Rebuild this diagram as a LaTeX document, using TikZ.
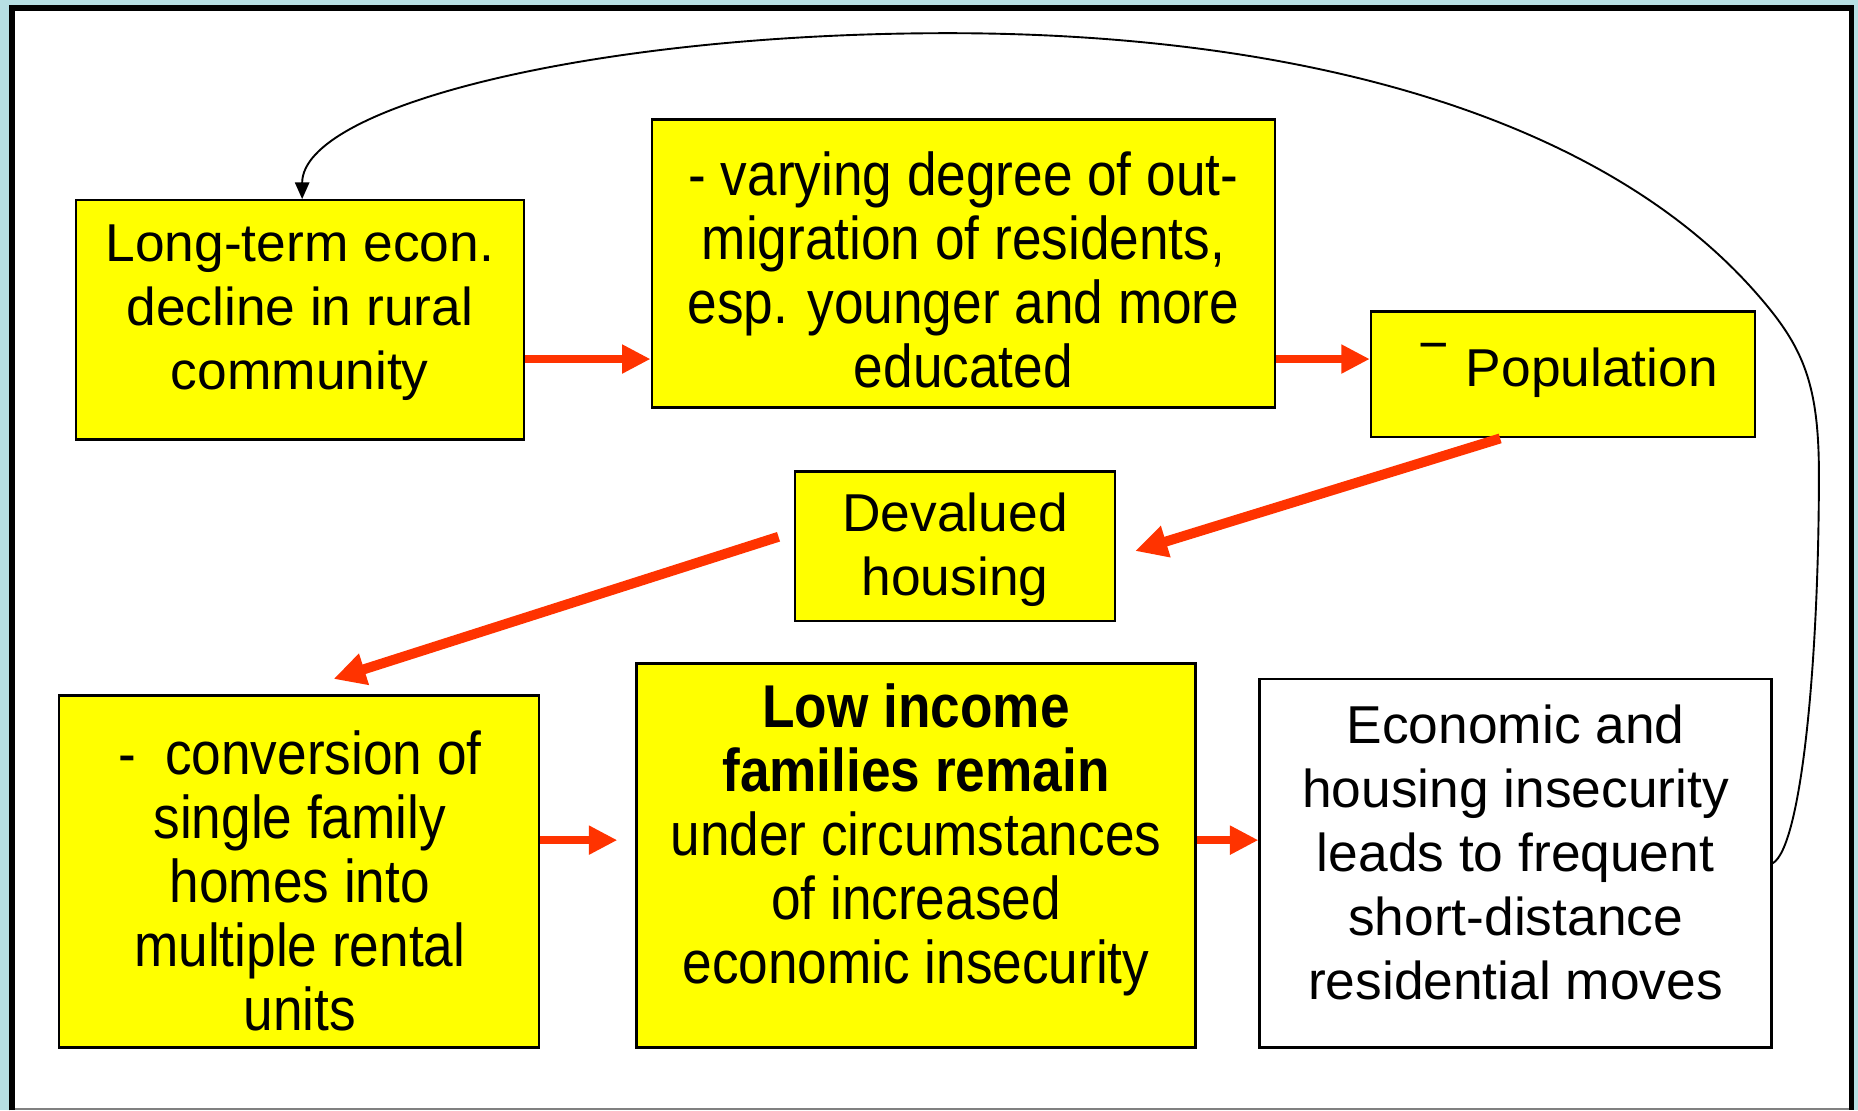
\documentclass[tikz,border=0pt]{standalone}
\usepackage{fontspec}
\setmainfont{Liberation Sans}
\newfontfamily\narrowfont[FakeStretch=0.88]{Liberation Sans}
\usetikzlibrary{arrows.meta,calc}
\definecolor{bgcyan}{HTML}{B7DFE3}
\definecolor{boxyellow}{HTML}{FFFF00}
\definecolor{arrowred}{HTML}{FF3300}
\tikzset{
  box/.style={draw=black, line width=1pt, fill=boxyellow, inner sep=0pt},
  whitebox/.style={box, fill=white},
  sz/.style 2 args={minimum width=#1*0.5pt, minimum height=#2*0.5pt},
  txt/.style={inner sep=0pt, align=center, font=\fontsize{22.5pt}{27pt}\selectfont},
  ntxt/.style={inner sep=0pt, align=center, font=\narrowfont\fontsize{25.5pt}{27pt}\selectfont},
  harrow/.style={draw=arrowred, line width=3.25pt, -{Triangle[length=12pt,width=11.5pt]}},
  darrow/.style={draw=arrowred, line width=4.2pt, -{Triangle[length=13.5pt,width=13pt]}},
  fb/.style={draw=black, line width=0.8pt, -{Triangle[length=7pt,width=6pt]}}
}
\begin{document}
\begin{tikzpicture}[x=0.5pt,y=-0.5pt]
\useasboundingbox (0,0) rectangle (1568,937);
% slide frame
\fill[bgcyan] (0,0) rectangle (1568,937);
\fill[white] (10,6) rectangle (1563,936);
\draw[gray, line width=1pt] (10,936) -- (1563,936);
\draw[black, line width=2.5pt] (10.5,937) -- (10.5,6.5) -- (1562.5,6.5) -- (1562.5,937);

% boxes
\node[box, sz={378}{202}] (b1) at (253,270) {};
\node[box, sz={526}{243}] (b2) at (813,222.5) {};
\node[box, sz={324}{106}] (b3) at (1319,316) {};
\node[box, sz={270}{126}] (b4) at (806,461) {};
\node[box, sz={405}{297}] (b5) at (252.5,735.5) {};
\node[box, sz={472}{324}] (b6) at (773,722) {};
\node[whitebox, sz={432}{311}] (b7) at (1279,728.5) {};

% texts
\node[txt] (t1) at (253,264) {Long-term econ.\\decline in rural\\community};
\node[ntxt] (t2) at (813,228) {- varying degree of out-\\migration of residents,\\esp. younger and more\\educated};
\node[txt, anchor=base west] (t3) at (1197,326) {\raisebox{10pt}{\fontsize{22pt}{22pt}\selectfont −}\hspace{7pt}Population};
\node[txt] (t4) at (806,464) {Devalued\\housing};
\node[ntxt] (t5) at (253,743) {-\ \ conversion of\\single family\\homes into\\multiple rental\\units};
\node[ntxt] (t6) at (773,709) {\textbf{Low income}\\\textbf{families remain}\\under circumstances\\of increased\\economic insecurity};
\node[txt] (t7) at (1279,719) {Economic and\\housing insecurity\\leads to frequent\\short-distance\\residential moves};

% arrows
\draw[harrow] (b1.east |- 0,303) -- (b2.west |- 0,303);
\draw[harrow] (b2.east |- 0,303) -- (b3.west |- 0,303);
\draw[darrow] (b3.south -| 1266,0) -- ($(b4.east)+(16,4)$);
\draw[darrow] ($(b4.west)+(-13,-8)$) -- ($(b5.north)+(29,-13)$);
\draw[harrow] (b5.east |- 0,709) -- ($(b6.west |- 0,709)+(-15,0)$);
\draw[harrow] (b6.east |- 0,709) -- (b7.west |- 0,709);

% feedback loop
\draw[fb] (b7.east) .. controls (1520,715) and (1535,560) .. (1535,400)
  .. controls (1535,320) and (1520,290) .. (1480,245)
  .. controls (1350,99) and (1100,28) .. (800,28)
  .. controls (500,28) and (255,90) .. (b1.north -| 255,0);
\end{tikzpicture}
\end{document}
